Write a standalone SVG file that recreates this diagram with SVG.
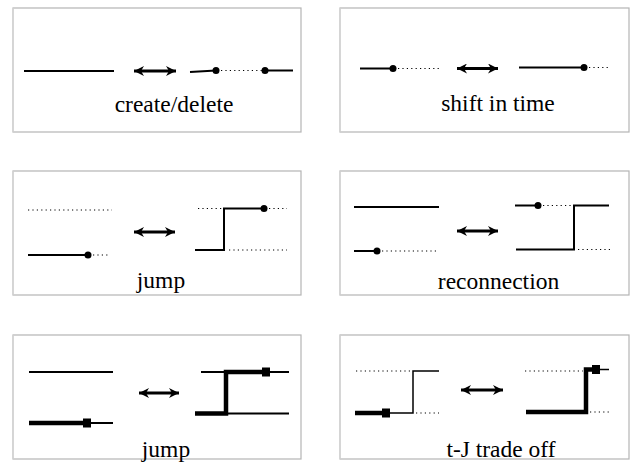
<svg xmlns="http://www.w3.org/2000/svg" width="637" height="462" viewBox="0 0 637 462">
<defs>
<style>
.frame{fill:#fff;stroke:#b4b4b4;stroke-width:1.2}
.fl{stroke:#d8d8d8;stroke-width:1.2}
.s{stroke:#000;stroke-width:2;fill:none}
.t{stroke:#000;stroke-width:1.5;fill:none}
.k{stroke:#000;stroke-width:4.5;fill:none}
.d{stroke:#000;stroke-width:1.2;stroke-dasharray:1.2 3.2;fill:none}
.dot{fill:#000}
.sq{fill:#000}
.arr{stroke:#000;stroke-width:3.2;fill:none;marker-start:url(#ah);marker-end:url(#ah)}
.lbl{font-size:23.5px;fill:#000;text-anchor:middle}
</style>
<marker id="ah" viewBox="0 0 10 10" refX="10" refY="5" markerWidth="11" markerHeight="10" markerUnits="userSpaceOnUse" orient="auto-start-reverse">
<path d="M0,0 L10,5 L0,10 L3,5 z" fill="#000"/>
</marker>
</defs>
<rect width="637" height="462" fill="#fff"/>

<g id="panel-create-delete">
<rect class="frame" x="13" y="8" width="288" height="124"/>
<line class="fl" x1="13" y1="8" x2="13" y2="132"/>
<line class="s" x1="24" y1="71" x2="114" y2="71"/>
<line class="s" x1="190" y1="72" x2="216" y2="70.5"/>
<circle class="dot" cx="216" cy="70.5" r="3.5"/>
<line class="d" x1="221" y1="70.5" x2="262" y2="70.5"/>
<circle class="dot" cx="265" cy="70.5" r="3.5"/>
<line class="s" x1="265" y1="70.5" x2="293" y2="70.5"/>
<text class="lbl" font-family="Liberation Serif, Times New Roman, DejaVu Serif, serif" x="174" y="112">create/delete</text>
</g>

<g id="panel-shift">
<rect class="frame" x="340" y="8" width="289" height="124"/>
<line class="fl" x1="340" y1="8" x2="340" y2="132"/>
<line class="s" x1="360" y1="68.5" x2="393" y2="68.5"/>
<circle class="dot" cx="393" cy="68.5" r="3.5"/>
<line class="d" x1="398" y1="68.5" x2="439" y2="68.5"/>
<line class="s" x1="519" y1="67.5" x2="584" y2="67.5"/>
<circle class="dot" cx="584" cy="67.5" r="3.5"/>
<line class="d" x1="589" y1="67.5" x2="608" y2="67.5"/>
<text class="lbl" font-family="Liberation Serif, Times New Roman, DejaVu Serif, serif" x="498" y="111">shift in time</text>
</g>

<g id="panel-jump1">
<rect class="frame" x="13" y="171" width="288" height="124"/>
<line class="fl" x1="13" y1="171" x2="13" y2="295"/>
<line class="d" x1="28" y1="210" x2="112" y2="210"/>
<line class="s" x1="28" y1="255" x2="88" y2="255"/>
<circle class="dot" cx="88" cy="255" r="3.5"/>
<line class="d" x1="93" y1="255" x2="109" y2="255"/>
<line class="d" x1="198" y1="208.5" x2="223" y2="208.5"/>
<polyline class="s" points="195,250 224,250 224,208.5 264,208.5"/>
<circle class="dot" cx="264" cy="208.5" r="3.5"/>
<line class="d" x1="269" y1="208.5" x2="287" y2="208.5"/>
<line class="d" x1="229" y1="250" x2="287" y2="250"/>
<text class="lbl" font-family="Liberation Serif, Times New Roman, DejaVu Serif, serif" x="161" y="288">jump</text>
</g>

<g id="panel-reconnection">
<rect class="frame" x="340" y="171" width="289" height="124"/>
<line class="fl" x1="340" y1="171" x2="340" y2="295"/>
<line class="s" x1="354" y1="207" x2="439" y2="207"/>
<line class="s" x1="354" y1="251" x2="377" y2="251"/>
<circle class="dot" cx="377" cy="251" r="3.5"/>
<line class="d" x1="382" y1="251" x2="436" y2="251"/>
<line class="s" x1="515" y1="205.5" x2="538" y2="205.5"/>
<circle class="dot" cx="538" cy="205.5" r="3.5"/>
<line class="d" x1="543" y1="205.5" x2="572" y2="205.5"/>
<polyline class="s" points="516,249.5 574,249.5 574,205.5 609,205.5"/>
<line class="d" x1="578" y1="249.5" x2="610" y2="249.5"/>
<text class="lbl" font-family="Liberation Serif, Times New Roman, DejaVu Serif, serif" x="498.5" y="289">reconnection</text>
</g>

<g id="panel-jump2">
<rect class="frame" x="13" y="335" width="288" height="124"/>
<line class="fl" x1="13" y1="335" x2="13" y2="459"/>
<line class="s" x1="29" y1="372" x2="113" y2="372"/>
<line class="k" x1="29" y1="423" x2="87" y2="423"/>
<rect class="sq" x="83" y="418.5" width="8" height="9"/>
<line class="s" x1="91" y1="423" x2="113" y2="423"/>
<line class="s" x1="201" y1="372" x2="226" y2="372"/>
<polyline class="k" points="195,413.5 226,413.5 226,372 263,372"/>
<rect class="sq" x="262" y="367.5" width="8" height="9"/>
<line class="s" x1="270" y1="372" x2="289" y2="372"/>
<line class="s" x1="226" y1="413.5" x2="289" y2="413.5"/>
<text class="lbl" font-family="Liberation Serif, Times New Roman, DejaVu Serif, serif" x="166" y="457">jump</text>
</g>

<g id="panel-tradeoff">
<rect class="frame" x="340" y="335" width="289" height="124"/>
<line class="fl" x1="340" y1="335" x2="340" y2="459"/>
<line class="d" x1="356" y1="371" x2="412" y2="371"/>
<polyline class="t" points="386,413 413,413 413,371 439,371"/>
<line class="k" x1="355" y1="413" x2="384" y2="413"/>
<rect class="sq" x="382" y="408.5" width="8" height="9"/>
<line class="d" x1="416" y1="413" x2="439" y2="413"/>
<line class="d" x1="525" y1="371" x2="583" y2="371"/>
<polyline class="k" points="526,412 586,412 586,369.5 594,369.5"/>
<rect class="sq" x="592" y="365" width="8" height="9"/>
<line class="t" x1="600" y1="369.5" x2="609" y2="369.5"/>
<line class="d" x1="590" y1="412" x2="609" y2="412"/>
<text class="lbl" font-family="Liberation Serif, Times New Roman, DejaVu Serif, serif" x="501" y="457">t-J trade off</text>
</g>

<g id="connectors">
<line class="arr" x1="134" y1="71" x2="176" y2="71"/>
<line class="arr" x1="457" y1="68.5" x2="498" y2="68.5"/>
<line class="arr" x1="134" y1="232" x2="175" y2="232"/>
<line class="arr" x1="457" y1="231" x2="498" y2="231"/>
<line class="arr" x1="139" y1="393" x2="179" y2="393"/>
<line class="arr" x1="461" y1="390" x2="503" y2="390"/>
</g>
</svg>
